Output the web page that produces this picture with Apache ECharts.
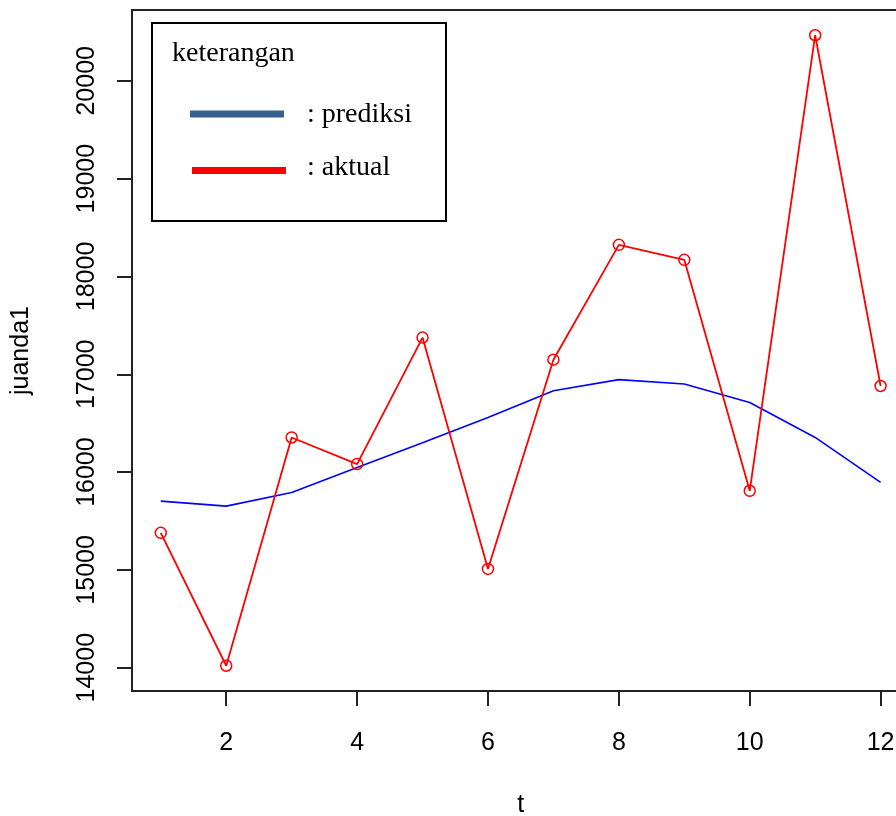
<!DOCTYPE html>
<html>
<head>
<meta charset="utf-8">
<script src="https://cdn.jsdelivr.net/npm/echarts@6/dist/echarts.min.js"></script>
<style>
html,body{margin:0;padding:0;background:#fff;}
#c{width:896px;height:816px;}
</style>
</head>
<body>
<div id="c"></div>
<script>
var t = [1, 2, 3, 4, 5, 6, 7, 8, 9, 10, 11, 12];
var aktual = [15379, 14020, 16354, 16082, 17375, 15010, 17149, 18323, 18170, 15809, 20466, 16880];
var prediksi = [15703, 15652, 15791, 16047, 16300, 16559, 16832, 16945, 16900, 16712, 16354, 15894];
var xTicks = [2, 4, 6, 8, 10, 12];
var yTicks = [14000, 15000, 16000, 17000, 18000, 19000, 20000];

var sans = '"Liberation Sans", Arial, sans-serif';
var serif = '"Liberation Serif", "Times New Roman", serif';

var chart = echarts.init(document.getElementById('c'), null, {renderer: 'canvas'});
chart.setOption({
  animation: false,
  backgroundColor: '#fff',
  grid: {
    left: 132, top: 10, width: 777.4, height: 681,
    containLabel: false, outerBoundsMode: 'none',
    show: true, borderColor: '#222', borderWidth: 2, backgroundColor: 'transparent'
  },
  xAxis: {
    type: 'value', min: 0.56, max: 12.44,
    name: 't', nameLocation: 'middle', nameGap: 102,
    nameTextStyle: {fontFamily: sans, fontSize: 25, color: '#000'},
    axisLine: {show: false},
    splitLine: {show: false},
    axisTick: {show: true, length: 15, customValues: xTicks, lineStyle: {color: '#222', width: 2}},
    axisLabel: {customValues: xTicks, margin: 40, fontFamily: sans, fontSize: 25, color: '#000', lineHeight: 25,
      formatter: function (v) { return String(v); }}
  },
  yAxis: {
    type: 'value', min: 13762, max: 20724,
    name: 'juanda1', nameLocation: 'middle', nameGap: 98,
    nameTextStyle: {fontFamily: sans, fontSize: 25, color: '#000', lineHeight: 25},
    axisLine: {show: false},
    splitLine: {show: false},
    axisTick: {show: true, length: 15, customValues: yTicks, lineStyle: {color: '#222', width: 2}},
    axisLabel: {customValues: yTicks, rotate: 90, margin: 32, fontFamily: sans, fontSize: 25, color: '#000', lineHeight: 25,
      formatter: function (v) { return String(v); }}
  },
  series: [
    {
      name: 'prediksi', type: 'line',
      data: t.map(function (v, i) { return [v, prediksi[i]]; }),
      showSymbol: false, symbol: 'none',
      lineStyle: {color: '#0000FF', width: 1.6},
      z: 2
    },
    {
      name: 'aktual', type: 'line',
      data: t.map(function (v, i) { return [v, aktual[i]]; }),
      symbol: 'circle', symbolSize: 11,
      itemStyle: {color: 'rgba(0,0,0,0)', borderColor: '#FF0000', borderWidth: 1.5},
      lineStyle: {color: '#FF0000', width: 1.8},
      z: 3
    }
  ],
  graphic: [
    {type: 'rect', shape: {x: 152, y: 23, width: 294, height: 198},
     style: {fill: '#fff', stroke: '#000', lineWidth: 2}, z: 100},
    {type: 'text', x: 172, y: 54, z: 101,
     style: {text: 'keterangan', font: '28px ' + serif, fill: '#000', verticalAlign: 'middle', align: 'left'}},
    {type: 'line', shape: {x1: 190, y1: 114, x2: 284, y2: 114},
     style: {stroke: '#36618F', lineWidth: 7}, z: 101},
    {type: 'line', shape: {x1: 192, y1: 170.5, x2: 286, y2: 170.5},
     style: {stroke: '#FF0000', lineWidth: 7}, z: 101},
    {type: 'text', x: 307, y: 114.5, z: 101,
     style: {text: ': prediksi', font: '28px ' + serif, fill: '#000', verticalAlign: 'middle', align: 'left'}},
    {type: 'text', x: 307, y: 168, z: 101,
     style: {text: ': aktual', font: '28px ' + serif, fill: '#000', verticalAlign: 'middle', align: 'left'}}
  ]
});
</script>
</body>
</html>
